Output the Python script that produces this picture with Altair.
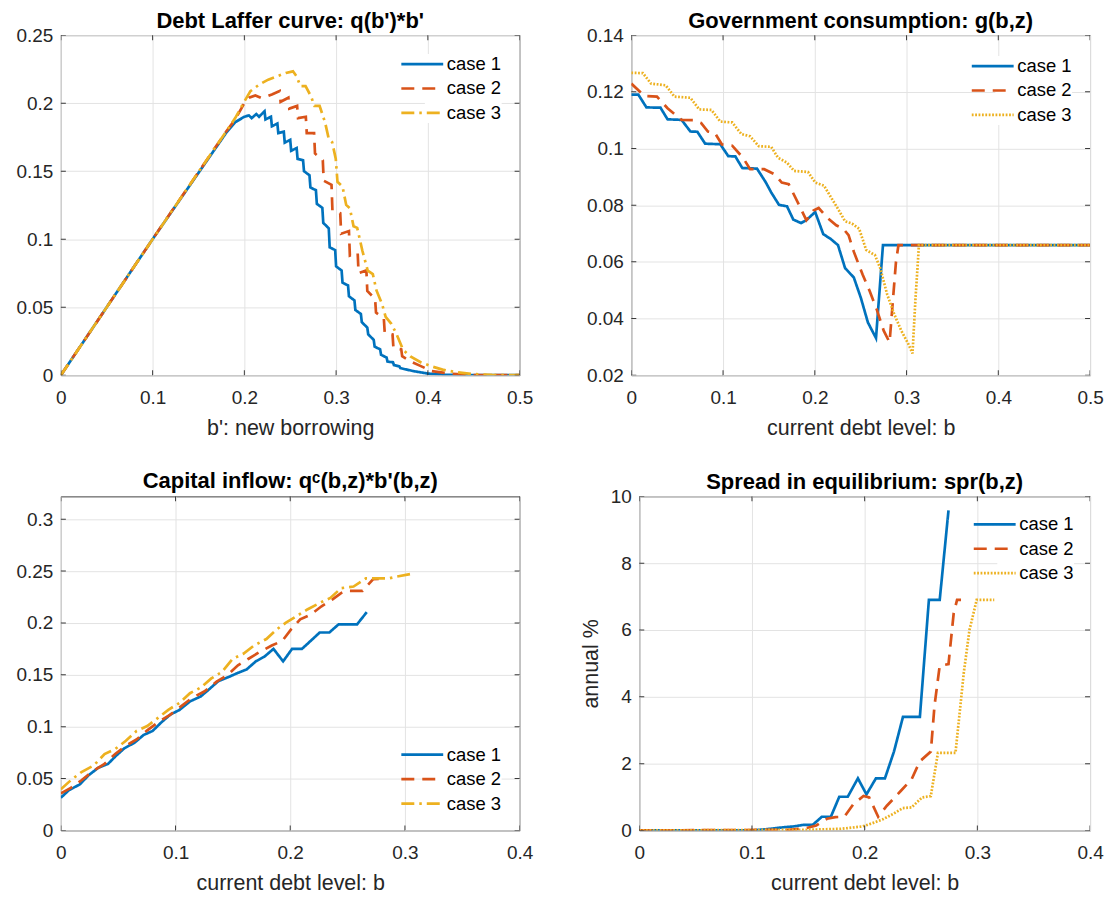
import altair as alt
import pandas as pd

FONT = "Liberation Sans"
CASES = ["case 1", "case 2", "case 3"]
COLORS = ["#0072BD", "#D95319", "#EDB120"]
LW = 2.7
AXIS_COLOR = "#262626"

SOLID = [1, 0]
DASH = [13, 8]
DOT = [1.8, 1.6]
DASHDOT = [13, 5, 2.5, 5]

# ---------------- Panel 1: Debt Laffer curve (b', q(b')*b') ----------------
laffer_case1 = [(0, 0), (0.1, 0.1), (0.18, 0.178), (0.19, 0.186), (0.2, 0.19), (0.205, 0.191),
                (0.208, 0.189), (0.213, 0.192), (0.216, 0.19),
                (0.222, 0.194), (0.223, 0.188), (0.229, 0.190), (0.230, 0.183),
                (0.236, 0.185), (0.237, 0.178), (0.243, 0.179), (0.244, 0.171),
                (0.250, 0.173), (0.251, 0.165), (0.257, 0.167), (0.258, 0.159),
                (0.264, 0.158), (0.265, 0.150), (0.271, 0.147), (0.272, 0.138),
                (0.278, 0.136), (0.279, 0.126), (0.285, 0.123), (0.286, 0.112),
                (0.292, 0.108), (0.293, 0.094), (0.299, 0.092), (0.300, 0.080),
                (0.306, 0.077), (0.307, 0.068), (0.313, 0.066), (0.314, 0.058),
                (0.320, 0.055), (0.321, 0.048), (0.327, 0.045), (0.328, 0.039),
                (0.334, 0.035), (0.335, 0.030), (0.341, 0.026), (0.342, 0.021),
                (0.348, 0.019), (0.349, 0.015), (0.355, 0.013), (0.356, 0.010),
                (0.362, 0.0095), (0.363, 0.0075), (0.369, 0.0065), (0.370, 0.0052),
                (0.385, 0.0029), (0.40, 0.0012), (0.42, 0.0003), (0.44, 0.0), (0.5, 0.0)]
laffer_case2 = [(0, 0), (0.1, 0.1), (0.18, 0.179), (0.19, 0.188), (0.2, 0.2), (0.205, 0.204),
                (0.212, 0.2057), (0.218, 0.204), (0.223, 0.2045), (0.230, 0.2064),
                (0.2385, 0.209), (0.2395, 0.201), (0.248, 0.204), (0.249, 0.196),
                (0.2575, 0.198), (0.2585, 0.189), (0.267, 0.190), (0.268, 0.178),
                (0.276, 0.178), (0.277, 0.163), (0.2855, 0.158), (0.2865, 0.143),
                (0.295, 0.140), (0.296, 0.121), (0.3045, 0.119), (0.3055, 0.104),
                (0.314, 0.106), (0.315, 0.088), (0.3235, 0.090), (0.3245, 0.075),
                (0.333, 0.077), (0.334, 0.062), (0.3425, 0.056), (0.3435, 0.046),
                (0.352, 0.042), (0.353, 0.031), (0.3615, 0.030), (0.3625, 0.020),
                (0.371, 0.019), (0.372, 0.014), (0.381, 0.0102), (0.393, 0.0065),
                (0.404, 0.003), (0.424, 0.0012), (0.447, 0.0002), (0.46, 0.0), (0.5, 0.0)]
laffer_case3 = [(0, 0), (0.1, 0.1), (0.18, 0.179), (0.19, 0.189), (0.199, 0.2), (0.2066, 0.2088),
                (0.2163, 0.2137), (0.226, 0.2173), (0.2357, 0.2197), (0.2453, 0.2222),
                (0.253, 0.2234), (0.257, 0.2197), (0.261, 0.2125), (0.2667, 0.2125),
                (0.2725, 0.2052), (0.2764, 0.198), (0.282, 0.198), (0.288, 0.1858),
                (0.292, 0.1737), (0.2957, 0.1713), (0.2996, 0.1592), (0.3015, 0.1422),
                (0.307, 0.1386), (0.311, 0.1252), (0.315, 0.1228), (0.319, 0.1095),
                (0.323, 0.1083), (0.3287, 0.0913), (0.3345, 0.0768), (0.340, 0.0744),
                (0.344, 0.0623), (0.350, 0.0526), (0.354, 0.0429), (0.36, 0.038),
                (0.3655, 0.0308), (0.373, 0.0187), (0.381, 0.0138), (0.3926, 0.0094),
                (0.404, 0.0065), (0.416, 0.0041), (0.431, 0.0022), (0.447, 0.001),
                (0.47, 0.0002), (0.5, 0.0)]

# ---------------- Panel 2: Government consumption g(b,z) ----------------
gov_case1 = [(0, 0.119), (0.0077, 0.119), (0.0165, 0.1145), (0.0318, 0.1144), (0.0395, 0.1103),
             (0.0548, 0.1101), (0.0644, 0.106), (0.072, 0.1059), (0.0805, 0.1017), (0.097, 0.1015),
             (0.1057, 0.0973), (0.1134, 0.0972), (0.121, 0.0931), (0.137, 0.0929), (0.1467, 0.088),
             (0.1525, 0.0845), (0.161, 0.0801), (0.1697, 0.0796), (0.1766, 0.0749), (0.185, 0.0737),
             (0.1908, 0.0747), (0.2004, 0.0776), (0.2092, 0.0698), (0.2176, 0.068), (0.2253, 0.0659),
             (0.233, 0.0578), (0.2425, 0.0545), (0.2502, 0.0473), (0.2579, 0.0386), (0.2667, 0.0331),
             (0.2743, 0.0659), (0.5, 0.0659)]
gov_case2 = [(0, 0.1229), (0.0146, 0.1185), (0.028, 0.1183), (0.0395, 0.1142), (0.0548, 0.1101),
             (0.068, 0.110), (0.076, 0.109), (0.0835, 0.106), (0.091, 0.1055), (0.0988, 0.1014),
             (0.110, 0.101), (0.1218, 0.0967), (0.1295, 0.0927), (0.1448, 0.0927), (0.1563, 0.0909),
             (0.164, 0.088), (0.1716, 0.0874), (0.1831, 0.0799), (0.1908, 0.0747), (0.1985, 0.0781),
             (0.2042, 0.079), (0.2138, 0.0755), (0.2234, 0.0729), (0.231, 0.0717), (0.2368, 0.0694),
             (0.2425, 0.0636), (0.2521, 0.0555), (0.2598, 0.0497), (0.2674, 0.0433), (0.2751, 0.0357),
             (0.2815, 0.0316), (0.2885, 0.0601), (0.2912, 0.0659), (0.5, 0.0659)]
gov_case3 = [(0, 0.1267), (0.0126, 0.1266), (0.0215, 0.1229), (0.0375, 0.1223), (0.047, 0.1183),
             (0.0644, 0.1179), (0.074, 0.1138), (0.0874, 0.1136), (0.097, 0.1095), (0.110, 0.1092),
             (0.12, 0.1051), (0.1295, 0.1043), (0.139, 0.1008), (0.1525, 0.1006), (0.160, 0.0967),
             (0.1697, 0.095), (0.1774, 0.0921), (0.1927, 0.0917), (0.2004, 0.088), (0.21, 0.0869),
             (0.2176, 0.0828), (0.2253, 0.0787), (0.233, 0.0743), (0.2406, 0.0735), (0.2483, 0.0717),
             (0.256, 0.0642), (0.2655, 0.0624), (0.2713, 0.0578), (0.2789, 0.0485), (0.2866, 0.0415),
             (0.2943, 0.0357), (0.302, 0.031), (0.3065, 0.0277), (0.3096, 0.0462), (0.3135, 0.0659),
             (0.5, 0.0659)]

# ---------------- Panel 3: Capital inflow ----------------
cap_case1 = [(0, 0.0316), (0.0071, 0.0389), (0.0164, 0.0443), (0.0242, 0.0532), (0.0326, 0.0604),
             (0.0412, 0.0642), (0.0474, 0.0712), (0.0552, 0.0791), (0.0645, 0.0848), (0.0722, 0.0921),
             (0.08, 0.0959), (0.0878, 0.1044), (0.0955, 0.1117), (0.1033, 0.1161), (0.1126, 0.1244),
             (0.1219, 0.1291), (0.1296, 0.1364), (0.1374, 0.144), (0.1467, 0.1481), (0.1544, 0.1519),
             (0.1622, 0.1554), (0.17, 0.163), (0.1777, 0.1677), (0.1854, 0.175), (0.1938, 0.163),
             (0.2016, 0.175), (0.2102, 0.175), (0.218, 0.1829), (0.2257, 0.1908), (0.2341, 0.1908),
             (0.2422, 0.1987), (0.2583, 0.1987), (0.2667, 0.2104)]
cap_case2 = [(0, 0.0358), (0.0087, 0.0411), (0.018, 0.0484), (0.0288, 0.0579), (0.0381, 0.0642),
             (0.0474, 0.0737), (0.0567, 0.0816), (0.066, 0.0877), (0.0753, 0.0965), (0.0862, 0.1054),
             (0.0955, 0.1117), (0.1048, 0.1196), (0.1141, 0.1275), (0.125, 0.1339), (0.1358, 0.1434),
             (0.1451, 0.1497), (0.1544, 0.1592), (0.1637, 0.1655), (0.173, 0.1718), (0.1839, 0.1782),
             (0.1932, 0.1829), (0.2009, 0.194), (0.2087, 0.2035), (0.218, 0.2082), (0.2273, 0.2161),
             (0.2366, 0.2225), (0.2443, 0.2288), (0.249, 0.231), (0.263, 0.231), (0.2722, 0.2421),
             (0.2815, 0.2427)]
cap_case3 = [(0, 0.0396), (0.0087, 0.0484), (0.018, 0.0563), (0.0288, 0.0627), (0.0381, 0.0737),
             (0.0474, 0.0785), (0.0567, 0.0864), (0.066, 0.0959), (0.0753, 0.1006), (0.0847, 0.1085),
             (0.094, 0.1165), (0.1033, 0.1228), (0.1126, 0.1323), (0.1219, 0.1377), (0.1312, 0.1465),
             (0.1405, 0.1528), (0.1498, 0.1655), (0.1591, 0.1703), (0.1684, 0.1782), (0.1792, 0.1845),
             (0.1885, 0.194), (0.1963, 0.2003), (0.2056, 0.2066), (0.2149, 0.213), (0.2257, 0.2193),
             (0.235, 0.2241), (0.2443, 0.2335), (0.2552, 0.2351), (0.266, 0.243), (0.2862, 0.243),
             (0.2924, 0.2446), (0.3048, 0.2472)]

# ---------------- Panel 4: Spread in equilibrium (annual %) ----------------
spr_case1 = [(0, 0.0), (0.1, 0.0), (0.1166, 0.05), (0.129, 0.1), (0.137, 0.12), (0.146, 0.17),
             (0.154, 0.17), (0.162, 0.41), (0.17, 0.41), (0.1775, 1.01), (0.185, 1.01), (0.194, 1.56),
             (0.2016, 1.08), (0.21, 1.56), (0.218, 1.56), (0.226, 2.36), (0.234, 3.4), (0.249, 3.4),
             (0.257, 6.9), (0.2666, 6.9), (0.2744, 9.58)]
spr_case2 = [(0, 0.0), (0.132, 0.02), (0.148, 0.07), (0.157, 0.15), (0.1666, 0.35), (0.174, 0.4),
             (0.182, 0.41), (0.19, 0.79), (0.199, 1.03), (0.204, 0.99), (0.212, 0.41), (0.2197, 0.74),
             (0.232, 1.18), (0.2416, 1.53), (0.249, 2.07), (0.2587, 2.36), (0.262, 3.74),
             (0.2666, 4.93), (0.2744, 4.98), (0.279, 6.5), (0.282, 6.9), (0.2855, 6.9)]
spr_case3 = [(0, 0.0), (0.148, 0.02), (0.179, 0.05), (0.198, 0.12), (0.207, 0.22), (0.2166, 0.34),
             (0.226, 0.51), (0.2337, 0.67), (0.2416, 0.69), (0.251, 0.99), (0.2587, 1.03),
             (0.265, 2.32), (0.2806, 2.32), (0.288, 4.73), (0.293, 6.0), (0.2994, 6.9), (0.315, 6.9)]

X_TICKS_05 = [0, 0.1, 0.2, 0.3, 0.4, 0.5]
X_TICKS_04 = [0, 0.1, 0.2, 0.3, 0.4]
Y_TICKS_1 = [0, 0.05, 0.1, 0.15, 0.2, 0.25]
Y_TICKS_2 = [0.02, 0.04, 0.06, 0.08, 0.1, 0.12, 0.14]
Y_TICKS_3 = [0, 0.05, 0.1, 0.15, 0.2, 0.25, 0.3]
Y_TICKS_4 = [0, 2, 4, 6, 8, 10]


def make_panel(series, title, xdom, xticks, ydom, yticks, xtitle, ytitle,
               dashes, lx, ly, w, h, title_offset=-6.5):
    rows = []
    for name, pts in zip(CASES, series):
        for bx, vy in pts:
            rows.append({"b": bx, "v": vy, "case": name})
    df = pd.DataFrame(rows)
    xs = alt.Scale(domain=xdom, nice=False, zero=False)
    ys = alt.Scale(domain=ydom, nice=False, zero=False)
    xax = alt.Axis(values=xticks, format="~r", title=xtitle, labelFlush=False,
                   labelPadding=13, titlePadding=10)
    yax = alt.Axis(values=yticks, format="~r", title=ytitle,
                   labelPadding=8, titlePadding=8)
    leg = alt.Legend(
        title=None, orient="none", legendX=lx, legendY=ly,
        symbolType="M-4,0H1", symbolSize=282, symbolStrokeWidth=LW,
        labelFont=FONT, labelFontSize=18.5, labelColor="#000000",
        labelOffset=2, rowPadding=4.5, padding=0, fillColor="white",
    )
    lines = alt.Chart(df).mark_line(strokeWidth=LW, clip=True, strokeCap="butt").encode(
        x=alt.X("b:Q", scale=xs, axis=xax),
        y=alt.Y("v:Q", scale=ys, axis=yax),
        color=alt.Color("case:N", scale=alt.Scale(domain=CASES, range=COLORS), legend=leg),
        strokeDash=alt.StrokeDash("case:N", scale=alt.Scale(domain=CASES, range=dashes), legend=leg),
    )
    # inward tick marks on all four sides of the box (MATLAB style)
    xdf = pd.DataFrame({"b": xticks})
    ydf = pd.DataFrame({"v": yticks})
    tick_kw = dict(color=AXIS_COLOR, thickness=1, size=10, clip=True, opacity=0.9)
    t_bottom = alt.Chart(xdf).mark_tick(**tick_kw).encode(
        x=alt.X("b:Q", scale=xs, axis=xax), y=alt.value(h))
    t_top = alt.Chart(xdf).mark_tick(**tick_kw).encode(
        x=alt.X("b:Q", scale=xs, axis=xax), y=alt.value(0))
    t_left = alt.Chart(ydf).mark_tick(**tick_kw).encode(
        y=alt.Y("v:Q", scale=ys, axis=yax), x=alt.value(0))
    t_right = alt.Chart(ydf).mark_tick(**tick_kw).encode(
        y=alt.Y("v:Q", scale=ys, axis=yax), x=alt.value(w))
    return alt.layer(lines, t_bottom, t_top, t_left, t_right).properties(
        width=w, height=h, title=alt.Title(title, frame="group", offset=title_offset))


TOP_H = 341
BOT_H = 335

p1 = make_panel([laffer_case1, laffer_case2, laffer_case3], "Debt Laffer curve: q(b')*b'",
                [0, 0.5], X_TICKS_05, [0, 0.25], Y_TICKS_1, "b': new borrowing", None,
                [SOLID, DASH, DASHDOT], 365, 19, 460, TOP_H)
p2 = make_panel([gov_case1, gov_case2, gov_case3], "Government consumption: g(b,z)",
                [0, 0.5], X_TICKS_05, [0.02, 0.14], Y_TICKS_2, "current debt level: b", None,
                [SOLID, DASH, DOT], 365, 21, 460, TOP_H)
p3 = make_panel([cap_case1, cap_case2, cap_case3], "Capital inflow: q\u1d9c(b,z)*b'(b,z)",
                [0, 0.4], X_TICKS_04, [0, 0.322], Y_TICKS_3, "current debt level: b", None,
                [SOLID, DASH, DASHDOT], 365, 249, 460, BOT_H, title_offset=3)
p4 = make_panel([spr_case1, spr_case2, spr_case3], "Spread in equilibrium: spr(b,z)",
                [0, 0.4], X_TICKS_04, [0, 10], Y_TICKS_4, "current debt level: b", "annual %",
                [SOLID, DASH, DOT], 359, 18, 452, BOT_H)

row1 = alt.hconcat(p1, p2, spacing=112, bounds="flush").resolve_scale(
    color="independent", strokeDash="independent")
row2 = alt.hconcat(p3, p4, spacing=120, bounds="flush").resolve_scale(
    color="independent", strokeDash="independent")

chart = alt.vconcat(row1, row2, spacing=30.5).resolve_scale(
    color="independent", strokeDash="independent"
).properties(
    padding={"left": 7, "top": 0, "right": 2, "bottom": 0},
    background="white",
).configure_axis(
    labelFont=FONT, labelFontSize=19, labelColor="#262626",
    titleFont=FONT, titleFontSize=21.5, titleFontWeight="normal", titleColor="#262626",
    grid=True, gridColor="#e3e3e3", gridWidth=1, domain=False, ticks=False,
    labelOverlap=False,
).configure_view(
    stroke="#404040", strokeWidth=1,
).configure_title(
    font=FONT, fontSize=22, fontWeight="bold", color="#000000", anchor="middle",
    baseline="alphabetic",
)

chart.save("out.html", embed_options={"renderer": "svg", "actions": False})
